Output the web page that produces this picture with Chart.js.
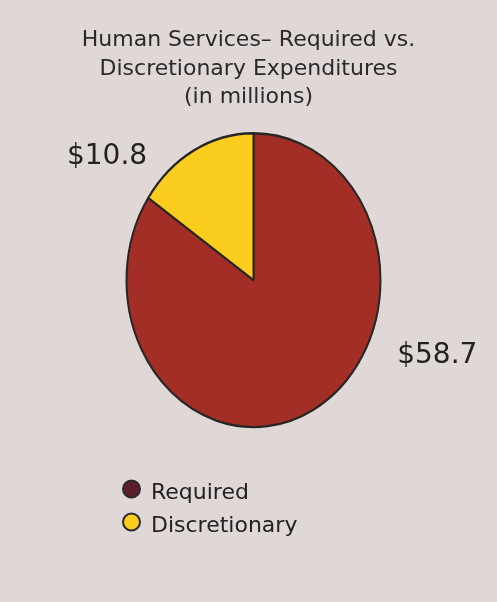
<!DOCTYPE html>
<html>
<head>
<meta charset="utf-8">
<script src="https://cdn.jsdelivr.net/npm/chart.js@4"></script>
<style>
  body { margin: 0; background: #e0d8d6; }
  canvas { display: block; }
</style>
</head>
<body>
<canvas id="pieChart" width="497" height="602"></canvas>
<script>
var categories = ['Required', 'Discretionary'];
var amounts = [58.7, 10.8];
var valueLabels = ['$58.7', '$10.8'];
var sliceColors = ['#a32e26', '#fbcd1e'];
var legendColors = ['#5c1f2a', '#fbcd1e'];
var titleLines = ['Human Services\u2013 Required vs.', 'Discretionary Expenditures', '(in millions)'];

// stretch the pie vertically so it looks like the oval in the original
var ovalPie = {
  id: 'ovalPie',
  beforeDatasetsDraw: function(chart, args, opts) {
    var arc = chart.getDatasetMeta(0).data[0];
    var ctx = chart.ctx;
    ctx.save();
    ctx.translate(arc.x + opts.dx, arc.y);
    ctx.scale(1, opts.sy);
    ctx.translate(-arc.x, -arc.y);
  },
  afterDatasetsDraw: function(chart) {
    chart.ctx.restore();
  }
};

// value labels placed next to each slice
var sliceLabels = {
  id: 'sliceLabels',
  afterDatasetsDraw: function(chart, args, opts) {
    var ctx = chart.ctx;
    var meta = chart.getDatasetMeta(0);
    var o = chart.options.plugins.ovalPie;
    ctx.save();
    ctx.font = '28px "DejaVu Sans"';
    ctx.fillStyle = '#222';
    ctx.textAlign = 'center';
    ctx.textBaseline = 'middle';
    meta.data.forEach(function(arc, i) {
      var rx = arc.outerRadius;
      var ry = arc.outerRadius * o.sy;
      var off = opts.offsets[i];
      ctx.fillText(valueLabels[i], arc.x + o.dx + off[0] * rx, arc.y + off[1] * ry);
    });
    ctx.restore();
  }
};

// legend stacked in one column with dot markers
var dotLegend = {
  id: 'dotLegend',
  afterDraw: function(chart, args, opts) {
    var ctx = chart.ctx;
    ctx.save();
    ctx.font = '22px "DejaVu Sans"';
    ctx.textBaseline = 'middle';
    categories.forEach(function(name, i) {
      var y = opts.y + i * opts.gap;
      ctx.beginPath();
      ctx.arc(opts.x, y, 8.5, 0, Math.PI * 2);
      ctx.fillStyle = legendColors[i];
      ctx.fill();
      ctx.lineWidth = 2;
      ctx.strokeStyle = '#2a2a2a';
      ctx.stroke();
      ctx.fillStyle = '#222';
      ctx.fillText(name, opts.x + 19.5, y + 4);
    });
    ctx.restore();
  }
};

var ctx = document.getElementById('pieChart').getContext('2d');
var pieChart = new Chart(ctx, {
  type: 'pie',
  data: {
    labels: categories,
    datasets: [{
      data: amounts,
      backgroundColor: sliceColors,
      borderColor: '#262626',
      borderWidth: 2,
      hoverOffset: 0
    }]
  },
  options: {
    responsive: false,
    animation: false,
    radius: 127,
    layout: {
      padding: { left: 50, right: 50, top: 0, bottom: 194.5 }
    },
    plugins: {
      legend: { display: false },
      tooltip: { enabled: false },
      title: {
        display: true,
        text: titleLines,
        color: '#2a2a2a',
        font: { family: 'DejaVu Sans', size: 22, weight: 'normal', lineHeight: 1.3 },
        padding: { top: 26, bottom: 41 }
      },
      ovalPie: { dx: 5, sy: 147.5 / 127.5 },
      sliceLabels: { offsets: [[1.447, 0.512], [-1.153, -0.837]] },
      dotLegend: { x: 131.5, y: 489, gap: 33 }
    }
  },
  plugins: [ovalPie, sliceLabels, dotLegend]
});
</script>
</body>
</html>
